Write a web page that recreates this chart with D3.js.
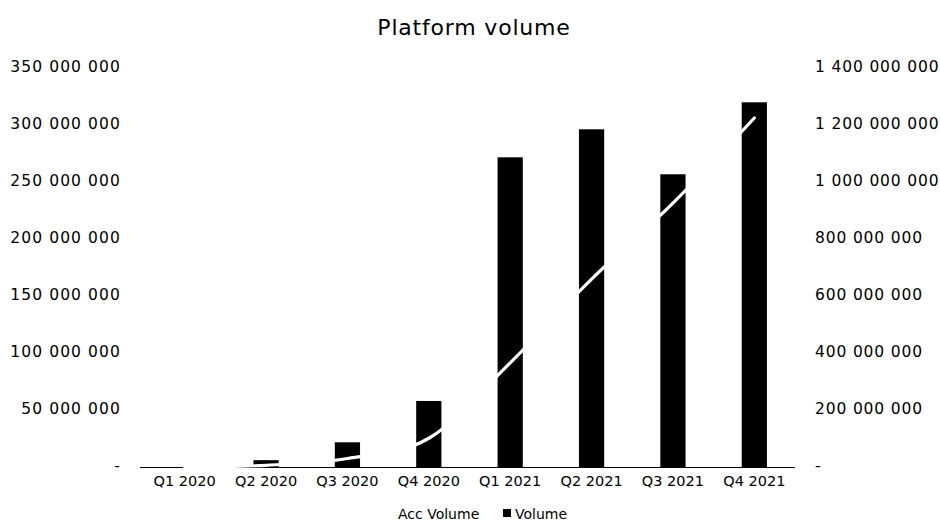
<!DOCTYPE html>
<html>
<head>
<meta charset="utf-8">
<script src="https://cdn.jsdelivr.net/npm/d3@7"></script>
<style>
    body { margin: 0; background: #fff; }
    text { font-family: "DejaVu Sans", sans-serif; fill: #000; }
</style>
</head>
<body>
<svg id="chart"></svg>
<script>
// data
var quarters = ["Q1 2020", "Q2 2020", "Q3 2020", "Q4 2020", "Q1 2021", "Q2 2021", "Q3 2021", "Q4 2021"];
var volume = [0, 6000000, 21700000, 58000000, 272000000, 296600000, 257100000, 320300000];
var accVolume = [0, 6000000, 30000000, 101000000, 366000000, 660000000, 927000000, 1226000000];
var leftTicks = [0, 50000000, 100000000, 150000000, 200000000, 250000000, 300000000, 350000000];
var rightTicks = [0, 200000000, 400000000, 600000000, 800000000, 1000000000, 1200000000, 1400000000];

var width = 940,
    height = 526;

var svg = d3.select("#chart")
    .attr("width", width)
    .attr("height", height);

var locale = d3.formatLocale({ decimal: ",", thousands: " ", grouping: [3], currency: ["", ""] });
var fmt = function (d) {
    return d === 0 ? "-" : locale.format(",")(d);
};

var xScale = d3.scaleBand()
    .domain(quarters)
    .range([144, 795])
    .paddingInner(0.69)
    .paddingOuter(0.345);

var yLeft = d3.scaleLinear()
    .domain([0, 350000000])
    .range([467, 68.5]);

var yRight = d3.scaleLinear()
    .domain([0, 1400000000])
    .range([467, 68.5]);

// title
svg.append("text")
    .attr("x", 474)
    .attr("y", 35)
    .attr("text-anchor", "middle")
    .style("font-size", "22px")
    .style("letter-spacing", "0.8px")
    .text("Platform volume");

// left axis labels
var leftAxis = d3.axisLeft(yLeft)
    .tickValues(leftTicks)
    .tickFormat(fmt)
    .tickSize(0)
    .tickPadding(0);
var gl = svg.append("g")
    .attr("transform", "translate(121,-1.5)")
    .call(leftAxis);
gl.select(".domain").remove();
gl.selectAll("text")
    .style("font-size", "15.5px")
    .style("letter-spacing", "1.1px")
    .style("font-family", "\"DejaVu Sans\", sans-serif");

// right axis labels
var rightAxis = d3.axisRight(yRight)
    .tickValues(rightTicks)
    .tickFormat(fmt)
    .tickSize(0)
    .tickPadding(0);
var gr = svg.append("g")
    .attr("transform", "translate(815,-1.5)")
    .call(rightAxis);
gr.select(".domain").remove();
gr.selectAll("text")
    .style("font-size", "15.5px")
    .style("letter-spacing", "0.85px")
    .style("font-family", "\"DejaVu Sans\", sans-serif");

// bars
svg.selectAll("rect.bar")
    .data(quarters)
    .enter()
    .append("rect")
    .attr("class", "bar")
    .attr("x", function (d) { return xScale(d); })
    .attr("width", xScale.bandwidth())
    .attr("y", function (d, i) { return yLeft(volume[i]); })
    .attr("height", function (d, i) { return yLeft(0) - yLeft(volume[i]); })
    .attr("fill", "#000");

// x axis line + labels
var xAxis = d3.axisBottom(xScale)
    .tickSize(0)
    .tickPadding(9);
var gx = svg.append("g")
    .attr("transform", "translate(0," + yLeft(0) + ")")
    .call(xAxis);
gx.select(".domain")
    .attr("d", "M140,0.5H795")
    .attr("stroke", "#000");
gx.selectAll("text")
    .style("font-size", "14.5px")
    .style("font-family", "\"DejaVu Sans\", sans-serif");

// accumulated volume line (white)
var line = d3.line()
    .x(function (d, i) { return xScale(quarters[i]) + xScale.bandwidth() / 2; })
    .y(function (d) { return yRight(d); })
    .curve(d3.curveCardinal.tension(0));

svg.append("path")
    .datum(accVolume)
    .attr("d", line)
    .attr("fill", "none")
    .attr("stroke", "#fff")
    .attr("stroke-width", 3.2)
    .attr("stroke-linecap", "round");

// legend
var legend = svg.append("g").attr("transform", "translate(0,519)");
legend.append("line")
    .attr("x1", 376).attr("x2", 392)
    .attr("y1", -5).attr("y2", -5)
    .attr("stroke", "#fff")
    .attr("stroke-width", 3);
legend.append("text")
    .attr("x", 398)
    .attr("y", 0)
    .style("font-size", "14px")
    .text("Acc Volume");
legend.append("rect")
    .attr("x", 503)
    .attr("y", -10)
    .attr("width", 8)
    .attr("height", 8)
    .attr("fill", "#000");
legend.append("text")
    .attr("x", 515)
    .attr("y", 0)
    .style("font-size", "14px")
    .text("Volume");
</script>
</body>
</html>
